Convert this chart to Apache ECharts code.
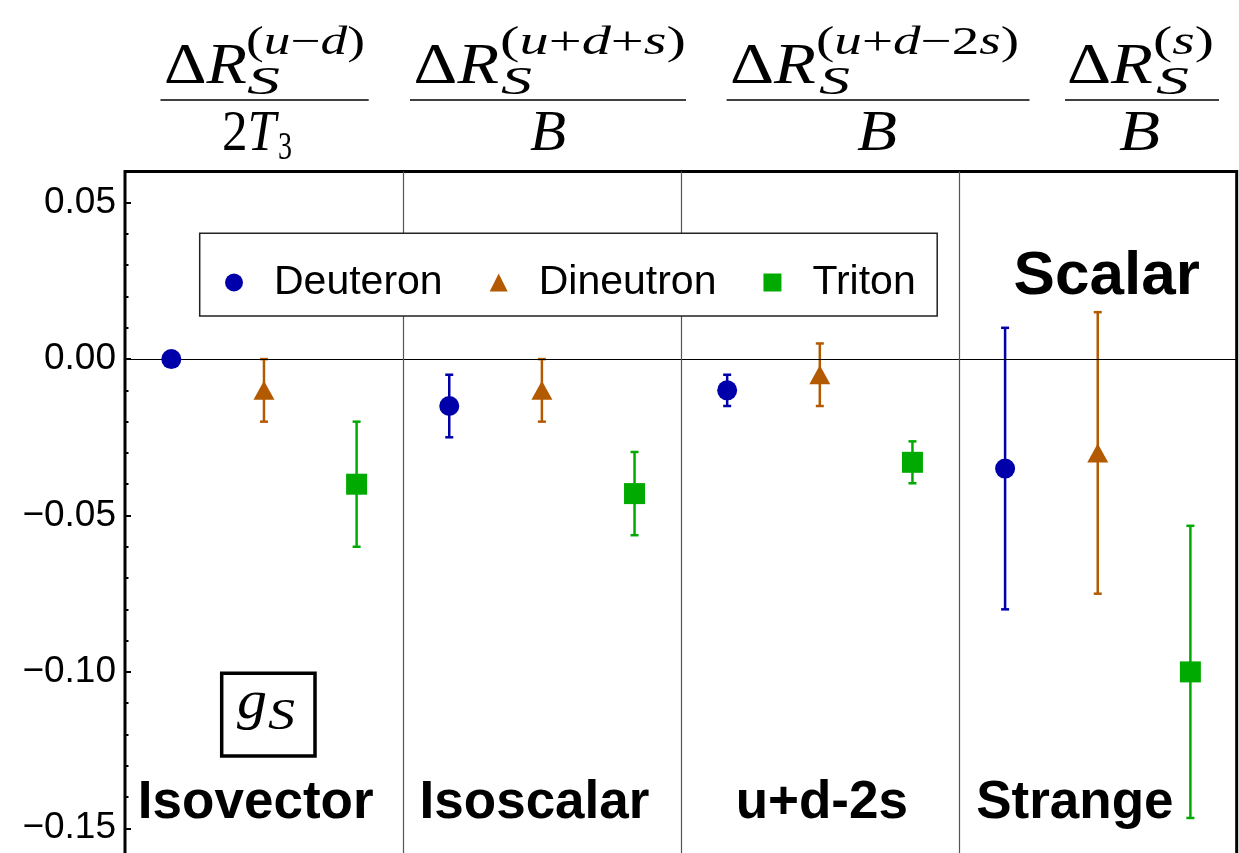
<!DOCTYPE html>
<html><head><meta charset="utf-8">
<script src="https://cdn.jsdelivr.net/npm/echarts@6/dist/echarts.min.js"></script>
<style>html,body{margin:0;padding:0;background:#fff}#chart{width:1239px;height:853px}</style>
</head><body><div id="chart"></div>
<script>
// ---------- data ----------
const panels = ['Isovector', 'Isoscalar', 'u+d-2s', 'Strange'];
const seriesNames = ['Deuteron', 'Dineutron', 'Triton'];
const deuteronVal = [0.000, -0.015, -0.010, -0.035];
const deuteronErr = [0.000, 0.010, 0.005, 0.045];
const dineutronVal = [-0.010, -0.010, -0.005, -0.030];
const dineutronErr = [0.010, 0.010, 0.010, 0.045];
const tritonVal = [-0.040, -0.043, -0.033, -0.100];
const tritonErr = [0.020, 0.0133, 0.0067, 0.0467];
const yTickLabels = [-0.15, -0.10, -0.05, 0.00, 0.05];

// ---------- styling ----------
const colors = ['#0000AA', '#B35A00', '#00AA00'];
const symbols = ['circle', 'triangle', 'rect'];
const symbolSizes = [20, [21, 19], 21];
const vals = [deuteronVal, dineutronVal, tritonVal];
const errs = [deuteronErr, dineutronErr, tritonErr];

const chart = echarts.init(document.getElementById('chart'), null, {renderer: 'canvas'});

function errRender(params, api) {
  const x = api.value(0), lo = api.value(1), hi = api.value(2);
  const p1 = api.coord([x, hi]), p2 = api.coord([x, lo]);
  const hw = 4;
  const style = {stroke: api.visual('color'), lineWidth: 2.5};
  return {type: 'group', children: [
    {type: 'line', shape: {x1: p1[0], y1: p1[1], x2: p2[0], y2: p2[1]}, style: style},
    {type: 'line', shape: {x1: p1[0] - hw, y1: p1[1], x2: p1[0] + hw, y2: p1[1]}, style: style},
    {type: 'line', shape: {x1: p2[0] - hw, y1: p2[1], x2: p2[0] + hw, y2: p2[1]}, style: style}
  ]};
}

const series = [{
  type: 'line', data: [[0, 0]], showSymbol: false, lineStyle: {width: 0}, silent: true, z: 1,
  markLine: {
    silent: true, symbol: 'none', label: {show: false}, animation: false,
    data: [
      {yAxis: 0, lineStyle: {color: '#000', width: 1.2, type: 'solid'}},
      {xAxis: 3, lineStyle: {color: '#555', width: 1.2, type: 'solid'}},
      {xAxis: 6, lineStyle: {color: '#555', width: 1.2, type: 'solid'}},
      {xAxis: 9, lineStyle: {color: '#555', width: 1.2, type: 'solid'}}
    ]
  }
}];
seriesNames.forEach((name, s) => {
  series.push({
    name: name + ' error', type: 'custom', renderItem: errRender, z: 3,
    itemStyle: {color: colors[s]},
    encode: {x: 0, y: [1, 2]},
    data: panels.map((p, i) => [i * 3 + 0.5 + s, vals[s][i] - errs[s][i], vals[s][i] + errs[s][i]])
  });
  series.push({
    name: name, type: 'scatter', z: 5,
    symbol: symbols[s], symbolSize: symbolSizes[s],
    itemStyle: {color: colors[s], opacity: 1},
    data: panels.map((p, i) => [i * 3 + 0.5 + s, vals[s][i]])
  });
});

// ---------- math text helpers ----------
const mctx = document.createElement('canvas').getContext('2d');
function measure(t, size, italic, fam) {
  mctx.font = (italic ? 'italic ' : '') + size + 'px ' + fam;
  return mctx.measureText(t).width;
}
const graphics = [];
function run(segs, x0, x1, base, size) {
  const fam = '"Liberation Serif"';
  const ws = segs.map(s => measure(s[0], size, s[1], fam));
  const tot = ws.reduce((a, b) => a + b, 0);
  const k = (x1 - x0) / tot;
  let x = x0;
  segs.forEach((s, i) => {
    graphics.push({type: 'text', x: x, y: base - 0.34 * size, scaleX: k, z: 10,
      style: {text: s[0], fontFamily: 'Liberation Serif', fontStyle: s[1] ? 'italic' : 'normal',
        fontSize: size, fill: '#000', align: 'left', verticalAlign: 'middle'}});
    x += ws[i] * k;
  });
}
function hline(x0, x1, y) {
  graphics.push({type: 'line', z: 10, shape: {x1: x0, y1: y, x2: x1, y2: y}, style: {stroke: '#000', lineWidth: 1.6}});
}
const M = 56, Sc = 40, NB = 87, SB = 97, UB = 57, DB = 154;
// header 1
run([['Δ', 0], ['R', 1]], 164, 247, NB, M);
run([['S', 1]], 247, 280, SB, Sc);
run([['(', 0], ['u', 1], ['−', 0], ['d', 1], [')', 0]], 246, 365, UB, Sc);
hline(160.5, 368.7, 100);
run([['2', 0], ['T', 1]], 222, 276, DB, M);
run([['3', 0]], 278, 292, DB + 8, Sc);
// header 2
run([['Δ', 0], ['R', 1]], 413.6, 499, NB, M);
run([['S', 1]], 501, 532, SB, Sc);
run([['(', 0], ['u', 1], ['+', 0], ['d', 1], ['+', 0], ['s', 1], [')', 0]], 500, 686, UB, Sc);
hline(410, 686, 100);
run([['B', 1]], 530, 566, DB, M);
// header 3
run([['Δ', 0], ['R', 1]], 730, 816, NB, M);
run([['S', 1]], 819, 850, SB, Sc);
run([['(', 0], ['u', 1], ['+', 0], ['d', 1], ['−2', 0], ['s', 1], [')', 0]], 816, 1019, UB, Sc);
hline(726.6, 1029.5, 100);
run([['B', 1]], 857, 897, DB, M);
// header 4
run([['Δ', 0], ['R', 1]], 1067, 1153, NB, M);
run([['S', 1]], 1156, 1189, SB, Sc);
run([['(', 0], ['s', 1], [')', 0]], 1153, 1214, UB, Sc);
hline(1065, 1219, 100);
run([['B', 1]], 1119, 1160, DB, M);
// g_S box
graphics.push({type: 'rect', z: 10, shape: {x: 221.7, y: 673.3, width: 93.3, height: 82.7},
  style: {fill: '#fff', stroke: '#000', lineWidth: 3.5}});
run([['g', 1]], 237, 267, 722, 54);
run([['S', 1]], 268, 295, 732, 44);

// bold labels
function bold(t, cx, base, size) {
  graphics.push({type: 'text', x: cx, y: base - 0.35 * size, z: 10,
    style: {text: t, fontFamily: 'Liberation Sans', fontWeight: 'bold', fontSize: size, fill: '#000',
      align: 'center', verticalAlign: 'middle'}});
}
const labelCenters = [255.7, 534.5, 821.8, 1074.9];
panels.forEach((p, i) => bold(p, labelCenters[i], 822, 53));
bold('Scalar', 1106.7, 299, 62);

// legend box
graphics.push({type: 'rect', z: 8, shape: {x: 199.7, y: 233.3, width: 737.5, height: 82.7},
  style: {fill: '#fff', stroke: '#222', lineWidth: 1.5}});

const option = {
  backgroundColor: '#fff',
  animation: false,
  grid: {left: 125, top: 171.4, right: 2.3, height: 813.3, outerBoundsMode: 'none', containLabel: false,
    show: true, borderWidth: 3, borderColor: '#000', backgroundColor: 'transparent'},
  xAxis: {type: 'value', min: 0, max: 12, show: false},
  yAxis: {
    type: 'value', min: -0.20, max: 0.06, interval: 0.05,
    axisLine: {show: false},
    axisTick: {show: true, inside: true, length: 6, lineStyle: {color: '#000', width: 2}},
    minorTick: {show: true, splitNumber: 5, length: 3.5, lineStyle: {color: '#000', width: 2}},
    splitLine: {show: false},
    axisLabel: {
      show: true, margin: 9, color: '#000', fontSize: 37, fontFamily: 'Liberation Sans',
      showMaxLabel: false, showMinLabel: false,
      formatter: v => {
        const hit = yTickLabels.some(t => Math.abs(t - v) < 1e-9);
        if (!hit) return '';
        if (Math.abs(v) < 1e-9) return '0.00';
        return (v < 0 ? '−' : '') + Math.abs(v).toFixed(2);
      }
    }
  },
  legend: {
    data: seriesNames.map((n, s) => ({name: n, icon: symbols[s]})),
    left: 225, top: 262, padding: 0, itemGap: 47, itemWidth: 18, itemHeight: 18, z: 20,
    selectedMode: false,
    textStyle: {fontSize: 41, fontFamily: 'Liberation Sans', color: '#000', padding: [0, 0, 10, 26]}
  },
  graphic: {elements: graphics},
  series: series
};
chart.setOption(option);
</script></body></html>
